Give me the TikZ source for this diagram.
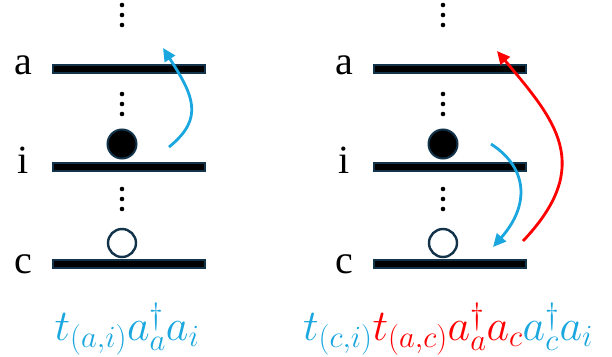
\documentclass[tikz,border=0pt]{standalone}
\usepackage{fix-cm}
\usepackage{fontspec}
\setmainfont{Liberation Serif}
\usetikzlibrary{arrows.meta}
\definecolor{eblue}{HTML}{1AA7E0}
\definecolor{ered}{HTML}{FF0000}
\definecolor{edge}{HTML}{12334A}
\begin{document}
\begin{tikzpicture}[x=1pt, y=-1pt,
  level/.style={draw=edge, line width=2pt, fill=black},
  hop/.style={line width=2.8pt, -{Triangle[length=13pt,width=12pt]}},
  every node/.style={inner sep=0pt}]
  \useasboundingbox (0,0) rectangle (612,356);
  \foreach \dx in {0,321} {
    \foreach \y in {69,167,264}
      \draw[level] (53+\dx,\y-4) rectangle (205+\dx,\y+4);
    \foreach \y in {5,15,25,94,104,114,189,199,209}
      \fill (122+\dx,\y) circle (2.3pt);
    \draw[edge, line width=2pt, fill=black] (122+\dx,144) circle (14.5pt);
    \draw[edge, line width=2.4pt, fill=white] (122+\dx,243) circle (14pt);
    \foreach \n/\y in {a/74,i/173,c/273}
      \node[anchor=base, font=\fontsize{40}{40}\selectfont] (\n\dx) at (23+\dx,\y) {\n};
  }
  % operators
  \node[anchor=base, text=eblue, font=\fontsize{44}{44}\selectfont] (fl) at (127,340)
    {$t_{(a,i)}a_a^\dagger a_i$};
  \node[anchor=base, font=\fontsize{44}{44}\selectfont] (fr) at (448,340)
    {$\color{eblue}t_{(c,i)}\color{ered}t_{(a,c)}a_a^\dagger a_c\color{eblue}a_c^\dagger a_i$};
  % excitations
  \coordinate (L1) at (169,147); \coordinate (L2) at (163,48);
  \coordinate (R1) at (491,144); \coordinate (R2) at (493,247);
  \coordinate (R3) at (523,241); \coordinate (R4) at (497,51);
  \draw[hop, eblue] (L1) .. controls (205,118) and (193,95) .. (L2);
  \draw[hop, eblue] (R1) .. controls (528,168) and (530,205) .. (R2);
  \draw[hop, ered] (R3) .. controls (595,165) and (555,120) .. (R4);
\end{tikzpicture}
\end{document}
